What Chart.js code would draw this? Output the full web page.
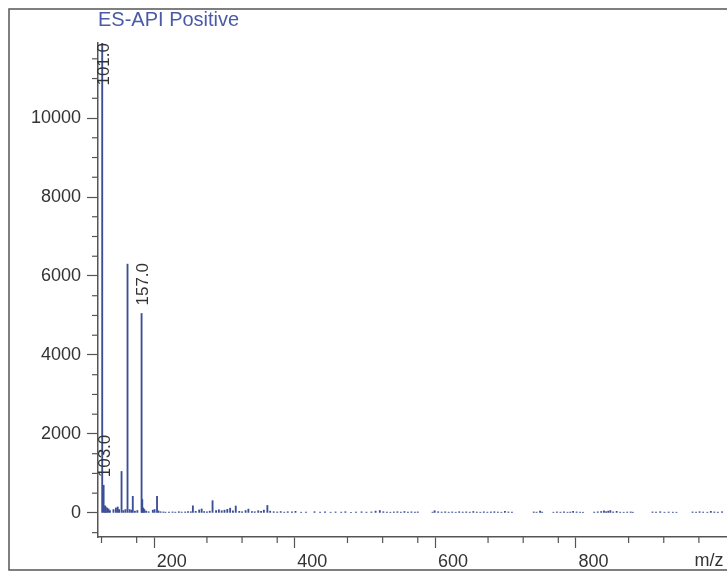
<!DOCTYPE html>
<html>
<head>
<meta charset="utf-8">
<script src="https://cdn.jsdelivr.net/npm/chart.js@4/dist/chart.umd.min.js"></script>
<style>
  html, body { margin: 0; padding: 0; background: #fff; }
  #wrap { width: 727px; height: 573px; }
</style>
</head>
<body>
<div id="wrap"><canvas id="chart"></canvas></div>
<script>
// MARK: - Data (m/z vs intensity)
const titleText = 'ES-API Positive';
const axisName = 'm/z';

const peakMz = [
  101, 103, 105, 106, 108, 110, 112, 117, 120.5, 123, 125, 128.5, 131, 134, 137, 140, 142.5, 144.5, 147.5, 151,
  157, 158, 159.5, 161, 163.5, 167, 173, 175.5, 179, 181, 184, 188, 191, 196, 201, 205, 210, 214, 219, 223,
  227, 230, 234, 239, 242.5, 246, 250, 254, 258, 263, 267, 271, 275, 279, 283, 287, 291, 296, 300, 305,
  309, 314, 318, 323, 327, 331, 336, 340, 345, 350, 355, 360, 365, 371, 376, 384, 391, 403, 411, 418,
  426, 433, 441, 447, 455, 462, 470, 477, 484, 490, 496, 501, 506, 511, 516, 521, 526, 531, 536, 541,
  546, 550, 571, 574, 579, 584, 589, 594, 599, 604, 609, 614, 619, 624, 629, 634, 639, 644, 649, 654,
  659, 664, 669, 674, 679, 684, 715, 719, 724, 727, 743, 748, 753, 758, 763, 767, 771, 776, 781, 785,
  801, 806, 811, 815, 818, 821, 824, 828, 833, 838, 843, 848, 853, 856, 884, 889, 895, 901, 907, 913,
  918, 941, 946, 951, 956, 962, 967, 972, 977, 983
];
const peakIntensity = [
  11900, 700, 180, 150, 125, 100, 60, 85, 125, 150, 85, 1050, 60, 85, 6300, 85, 70, 420, 45, 60,
  5050, 340, 125, 85, 45, 30, 70, 85, 420, 50, 30, 25, 20, 18, 25, 20, 30, 22, 25, 35,
  30, 180, 40, 75, 100, 35, 30, 45, 310, 60, 80, 55, 70, 90, 120, 50, 175, 40, 30, 60,
  95, 35, 30, 55, 40, 70, 190, 45, 30, 25, 35, 20, 30, 25, 40, 18, 22, 30, 20, 28,
  18, 25, 20, 30, 15, 22, 28, 20, 25, 45, 60, 30, 22, 18, 25, 30, 20, 35, 22, 28,
  18, 25, 20, 55, 30, 22, 28, 20, 25, 18, 30, 22, 26, 20, 35, 22, 18, 28, 20, 25,
  30, 22, 18, 40, 25, 20, 25, 20, 45, 22, 18, 25, 20, 30, 18, 22, 40, 25, 20, 18,
  22, 28, 35, 50, 30, 45, 60, 25, 40, 20, 18, 22, 25, 18, 25, 20, 30, 18, 22, 20,
  18, 25, 20, 30, 22, 18, 40, 25, 20, 30
];
const labelledMz = [101, 103, 157];

const xMin = 95, xMax = 990;
const yMin = -610, yMax = 11900;
const yTickStep = 500, yLabelStep = 2000;
const xTickStep = 50, xLabelStep = 200;

// MARK: - Drawing helpers
const frameAndLabels = {
  id: 'frameAndLabels',
  beforeDraw(chart) {
    const ctx = chart.ctx;
    ctx.save();
    ctx.strokeStyle = '#555';
    ctx.lineWidth = 1.5;
    ctx.strokeRect(9, 9, 760, 561);
    ctx.restore();
  },
  afterDraw(chart) {
    const ctx = chart.ctx;
    const area = chart.chartArea;
    const xs = chart.scales.x;
    const ys = chart.scales.y;

    // short minor ticks (unlabelled ones)
    ctx.save();
    ctx.strokeStyle = '#555';
    ctx.lineWidth = 1.2;
    ys.ticks.forEach(function(t, i) {
      if (t.label === '') {
        let py = ys.getPixelForTick(i);
        ctx.beginPath();
        ctx.moveTo(area.left - 6, py);
        ctx.lineTo(area.left, py);
        ctx.stroke();
      }
    });
    xs.ticks.forEach(function(t, i) {
      if (t.label === '') {
        let px = xs.getPixelForTick(i);
        ctx.beginPath();
        ctx.moveTo(px, area.bottom);
        ctx.lineTo(px, area.bottom + 6);
        ctx.stroke();
      }
    });

    // peak labels, rotated, kept inside the plot
    ctx.font = '17px "Liberation Sans", Arial, sans-serif';
    ctx.fillStyle = '#333';
    ctx.textAlign = 'left';
    ctx.textBaseline = 'middle';
    labelledMz.forEach(function(m) {
      let idx = peakMz.indexOf(m);
      let text = m.toFixed(1);
      let w = ctx.measureText(text).width;
      let px = xs.getPixelForValue(m) + 2;
      let py = Math.max(ys.getPixelForValue(peakIntensity[idx]) - 8, area.top + w);
      ctx.save();
      ctx.translate(px, py);
      ctx.rotate(-Math.PI / 2);
      ctx.fillText(text, 0, 0);
      ctx.restore();
    });

    // axis name
    ctx.font = '18px "Liberation Sans", Arial, sans-serif';
    ctx.fillStyle = '#333';
    ctx.textAlign = 'center';
    ctx.fillText(axisName, 709, 561);
    ctx.restore();
  }
};

const points = peakMz.map(function(m, i) { return { x: m, y: peakIntensity[i] }; });

function stepTicks(lo, hi, step) {
  let out = [];
  for (let v = Math.ceil(lo / step) * step; v <= hi; v += step) {
    out.push({ value: v });
  }
  return out;
}

const ctx = document.getElementById('chart').getContext('2d');
new Chart(ctx, {
  type: 'bar',
  data: {
    datasets: [{
      data: points,
      backgroundColor: '#3c4e97',
      borderWidth: 0,
      barThickness: 1.2,
      grouped: false
    }]
  },
  options: {
    responsive: true,
    maintainAspectRatio: false,
    animation: false,
    devicePixelRatio: 1,
    layout: { padding: { left: 0, top: 8, right: 0, bottom: 0 } },
    plugins: {
      legend: { display: false },
      tooltip: { enabled: false },
      title: {
        display: true,
        text: titleText,
        align: 'start',
        fullSize: false,
        color: '#4a5aa7',
        font: { size: 20, family: '"Liberation Sans", Arial, sans-serif', weight: 'normal' },
        padding: { top: 0, bottom: 11 }
      }
    },
    scales: {
      x: {
        type: 'linear',
        min: xMin,
        max: xMax,
        offset: false,
        afterBuildTicks: function(scale) { scale.ticks = stepTicks(xMin, xMax, xTickStep); },
        grid: {
          drawOnChartArea: false,
          tickLength: 11,
          tickWidth: 1.2,
          tickColor: function(c) { return c.tick && c.tick.value % xLabelStep === 0 ? '#555' : 'rgba(0,0,0,0)'; }
        },
        border: { color: '#555', width: 1.5 },
        ticks: {
          autoSkip: false,
          maxRotation: 0,
          padding: 3,
          color: '#333',
          font: { size: 18, family: '"Liberation Sans", Arial, sans-serif' },
          callback: function(v) { return v % xLabelStep === 0 ? String(v) : ''; }
        },
        afterFit: function(scale) {
          scale.height = 36;
          scale.paddingLeft = 0;
          scale.paddingRight = 0;
        }
      },
      y: {
        min: yMin,
        max: yMax,
        afterBuildTicks: function(scale) { scale.ticks = stepTicks(yMin, yMax, yTickStep); },
        grid: {
          drawOnChartArea: false,
          tickLength: 11,
          tickWidth: 1.2,
          tickColor: function(c) { return c.tick && c.tick.value % yLabelStep === 0 ? '#555' : 'rgba(0,0,0,0)'; }
        },
        border: { color: '#555', width: 1.5 },
        ticks: {
          autoSkip: false,
          padding: 6,
          color: '#333',
          font: { size: 18, family: '"Liberation Sans", Arial, sans-serif' },
          callback: function(v) { return v % yLabelStep === 0 ? String(v) : ''; }
        },
        afterFit: function(scale) {
          scale.width = 98;
          scale.paddingTop = 0;
          scale.paddingBottom = 0;
        }
      }
    }
  },
  plugins: [frameAndLabels]
});
</script>
</body>
</html>
